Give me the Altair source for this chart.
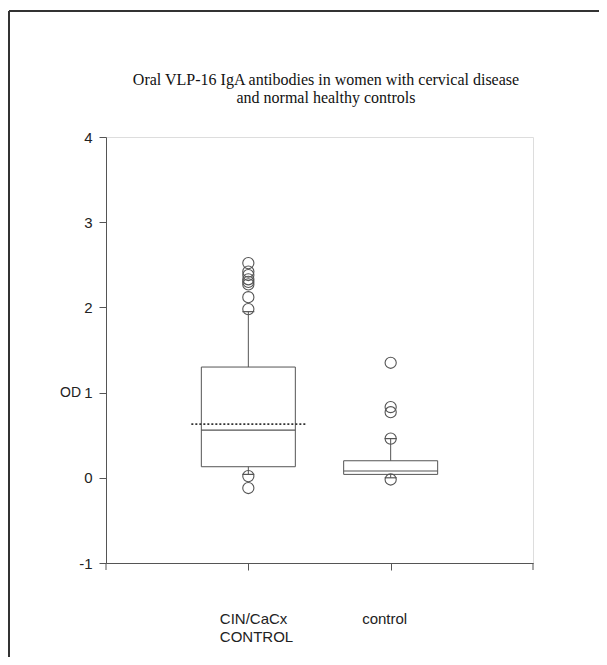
import altair as alt
import pandas as pd

# ---- data ----
categories = ["CIN/CaCx\nCONTROL", "control"]
q1 = [0.13, 0.04]
median = [0.56, 0.08]
q3 = [1.30, 0.20]
mean = [0.63, None]
whisker_low = [0.04, 0.00]
whisker_high = [1.95, 0.46]
outliers_cin = [2.52, 2.42, 2.38, 2.33, 2.30, 2.27, 2.12, 1.98, 0.02, -0.12]
outliers_control = [1.35, 0.83, 0.77, 0.46, -0.02]
y_ticks = [-1, 0, 1, 2, 3, 4]
title_lines = ["Oral VLP-16 IgA antibodies in women with cervical disease",
               "and normal healthy controls"]

summary = pd.DataFrame({
    "group": categories, "q1": q1, "median": median, "q3": q3,
    "mean": mean, "wlo": whisker_low, "whi": whisker_high,
})
outl = pd.DataFrame({
    "group": [categories[0]] * len(outliers_cin) + [categories[1]] * len(outliers_control),
    "od": outliers_cin + outliers_control,
})

GRAY = "#555555"
TXT = "#222222"

xscale = alt.Scale(type="point", domain=categories, padding=1)
xaxis = alt.Axis(
    title=None, labelExpr="split(datum.label, '\\n')", labelAlign="left",
    labelOffset=-29, labelBaseline="top", labelPadding=41, labelLineHeight=18,
    labelFont="Liberation Sans", labelFontSize=15, labelColor=TXT,
    tickSize=7, tickColor=GRAY, domainColor=GRAY, grid=False, labelAngle=0,
)
yscale = alt.Scale(domain=[-1, 4], nice=False, zero=False)
yaxis = alt.Axis(
    values=y_ticks, labelExpr="'' + datum.value", title="OD", titleAngle=0,
    titleX=-36, titleY=255,
    titleAlign="center", titleBaseline="middle", titleFont="Liberation Sans",
    titleFontSize=14, titleFontWeight="normal", titleColor=TXT,
    labelFont="Liberation Sans", labelFontSize=15, labelColor=TXT, labelPadding=7,
    tickSize=7, tickColor=GRAY, domainColor=GRAY, grid=False,
)

def X():
    return alt.X("group:N", scale=xscale, axis=xaxis)

def Y(f):
    return alt.Y(f, type="quantitative", scale=yscale, axis=yaxis)

base = alt.Chart(summary)

box = base.mark_bar(size=94, fill="white", stroke=GRAY, strokeWidth=1).encode(
    x=X(), y=Y("q1"), y2="q3")

whisk_hi = base.mark_rule(color=GRAY, strokeWidth=1).encode(x=X(), y=Y("q3"), y2="whi")
whisk_lo = base.mark_rule(color=GRAY, strokeWidth=1).encode(x=X(), y=Y("wlo"), y2="q1")

cap_hi = base.mark_rule(color=GRAY, strokeWidth=1.2, xOffset=-6, x2Offset=6).encode(
    x=X(), x2="group", y=Y("whi"))
cap_lo = base.mark_rule(color=GRAY, strokeWidth=1.2, xOffset=-6, x2Offset=6).encode(
    x=X(), x2="group", y=Y("wlo"))

med = base.mark_rule(color=GRAY, strokeWidth=1.2, xOffset=-47, x2Offset=47).encode(
    x=X(), x2="group", y=Y("median"))
mn = base.mark_rule(color="#333333", strokeWidth=1.6, strokeDash=[2, 2],
                    xOffset=-57, x2Offset=57).encode(x=X(), x2="group", y=Y("mean"))

pts = alt.Chart(outl).mark_point(shape="circle", size=125, filled=False,
                                 color=GRAY, strokeWidth=1.1, opacity=1).encode(
    x=X(), y=Y("od"))

frame_src = pd.DataFrame({"a": [0]})
title1 = alt.Chart(frame_src).mark_text(
    font="Liberation Serif", fontSize=16, color="#111111", align="center",
    baseline="middle").encode(
    text=alt.value(title_lines[0]), x=alt.value(220), y=alt.value(-57))
title2 = alt.Chart(frame_src).mark_text(
    font="Liberation Serif", fontSize=16, color="#111111", align="center",
    baseline="middle").encode(
    text=alt.value(title_lines[1]), x=alt.value(220), y=alt.value(-39))

# small tick extensions at the corners of the x axis
end_left = alt.Chart(frame_src).mark_rule(color=GRAY, strokeWidth=1).encode(
    x=alt.value(0), y=alt.value(426), y2=alt.value(433))
end_right = alt.Chart(frame_src).mark_rule(color=GRAY, strokeWidth=1).encode(
    x=alt.value(427), y=alt.value(426), y2=alt.value(433))

frame_left = alt.Chart(frame_src).mark_rule(color="#333333", strokeWidth=2).encode(
    x=alt.value(-97), y=alt.value(-126), y2=alt.value(540))
frame_top = alt.Chart(frame_src).mark_rule(color="#333333", strokeWidth=2).encode(
    x=alt.value(-97), x2=alt.value(520), y=alt.value(-126))

chart = alt.layer(box, whisk_hi, whisk_lo, cap_hi, cap_lo, med, mn, pts,
                  end_left, end_right, frame_left, frame_top, title1, title2).properties(
    width=427, height=426,
    autosize=alt.AutoSizeParams(type="none"),
    padding={"left": 98, "top": 129, "right": 66, "bottom": 94},
).configure_view(stroke="#777777", strokeWidth=1).configure(background="white")

chart.save("out.html", embed_options={"renderer": "svg", "actions": False})
